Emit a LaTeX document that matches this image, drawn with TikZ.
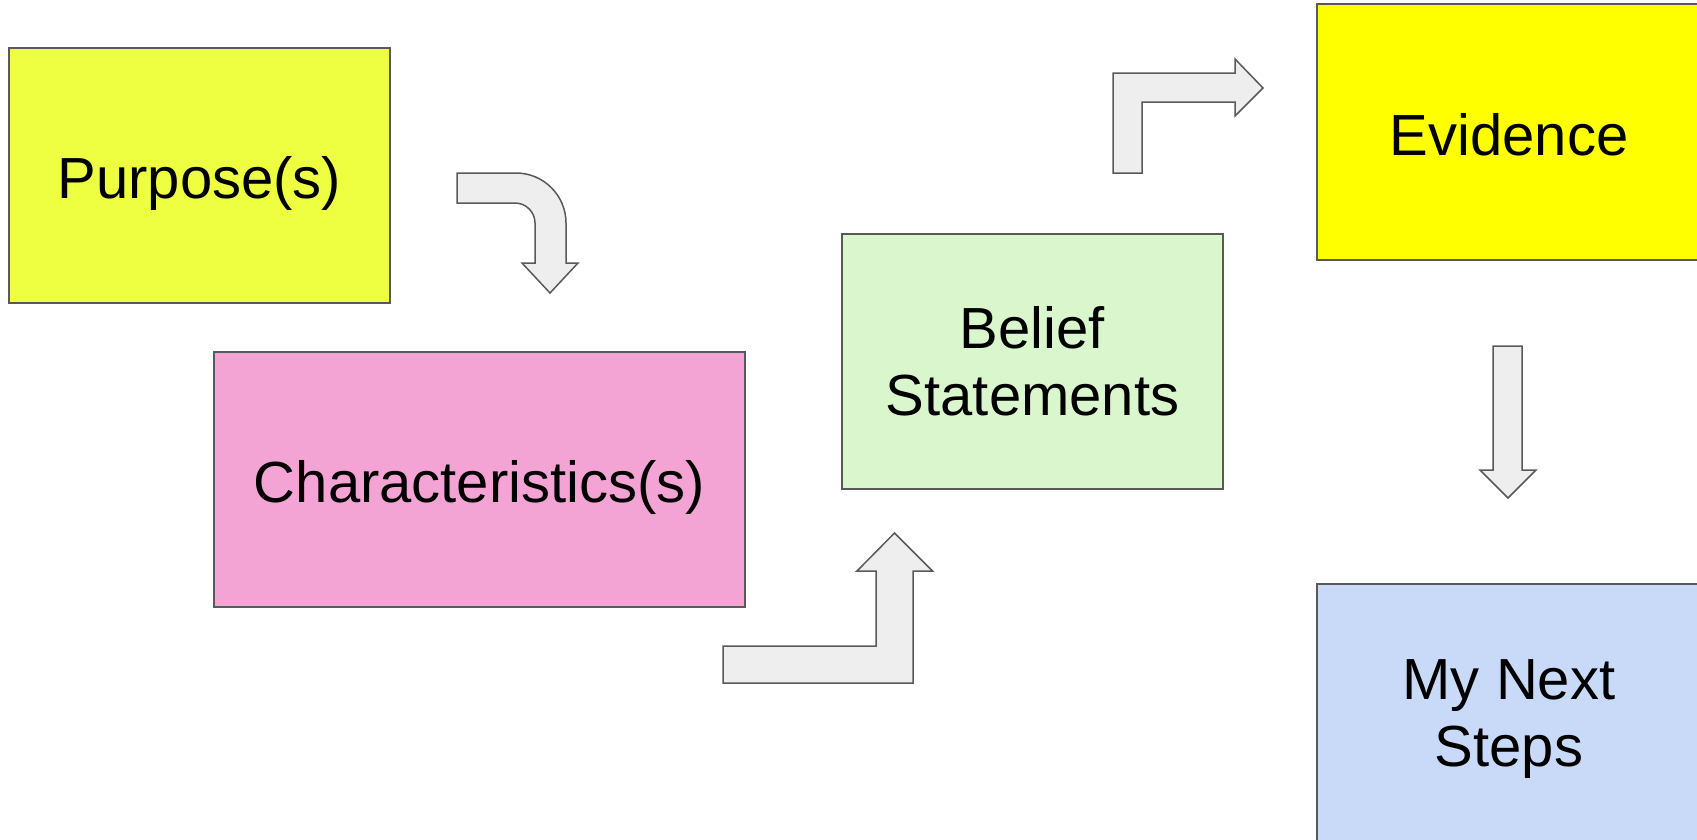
\documentclass[tikz,border=0pt]{standalone}
\usepackage{fontspec}
\setmainfont{Liberation Sans}
\definecolor{cPurpose}{HTML}{EEFF41}
\definecolor{cChar}{HTML}{F4A4D4}
\definecolor{cBelief}{HTML}{D9F6CC}
\definecolor{cEvid}{HTML}{FFFF00}
\definecolor{cNext}{HTML}{C9DAF8}
\definecolor{lineg}{HTML}{595959}
\definecolor{arrfill}{HTML}{EEEEEE}
\begin{document}
\begin{tikzpicture}[x=1pt,y=-1pt,
  box/.style={draw=lineg, line width=1.5pt, inner sep=0pt, align=center,
    font=\fontsize{58}{67}\selectfont},
  oneline/.style={text height=46pt, text depth=0pt},
  blockarrow/.style={draw=lineg, fill=arrfill, line width=1.5pt, line join=miter}]
\useasboundingbox (0,0) rectangle (1697,839);
% boxes
\node[box, oneline, fill=cPurpose, minimum width=381pt, minimum height=255pt] (purpose) at (199.5,175.5) {Purpose(s)};
\node[box, oneline, fill=cChar, minimum width=531pt, minimum height=255pt] (char) at (479.5,479.5) {Characteristics(s)};
\node[box, fill=cBelief, minimum width=381pt, minimum height=255pt] (belief) at (1032.5,361.5) {Belief\\Statements};
\node[box, oneline, fill=cEvid, minimum width=384pt, minimum height=256pt] (evid) at (1509,132) {Evidence};
\node[box, fill=cNext, minimum width=384pt, minimum height=270pt] (next) at (1509,719) {My Next\\Steps};
% block arrows
\draw[blockarrow] (457,173) -- (516,173) .. controls (543.6,173) and (566,195.4) .. (566,223)
  -- (566,263) -- (578,263) -- (550,293) -- (522,263) -- (535,263) -- (535,223)
  .. controls (535,212) and (526,203) .. (515,203) -- (457,203) -- cycle;
\draw[blockarrow] (723,646) -- (876,646) -- (876,571) -- (857,571) -- (894.5,533) -- (932.5,571)
  -- (913,571) -- (913,683) -- (723,683) -- cycle;
\draw[blockarrow] (1113,173) -- (1113,73) -- (1235,73) -- (1235,59) -- (1263,88) -- (1235,116)
  -- (1235,102) -- (1142,102) -- (1142,173) -- cycle;
\draw[blockarrow] (1493,346) -- (1522,346) -- (1522,470) -- (1536,470) -- (1508,498) -- (1480,470)
  -- (1493,470) -- cycle;
\end{tikzpicture}
\end{document}
